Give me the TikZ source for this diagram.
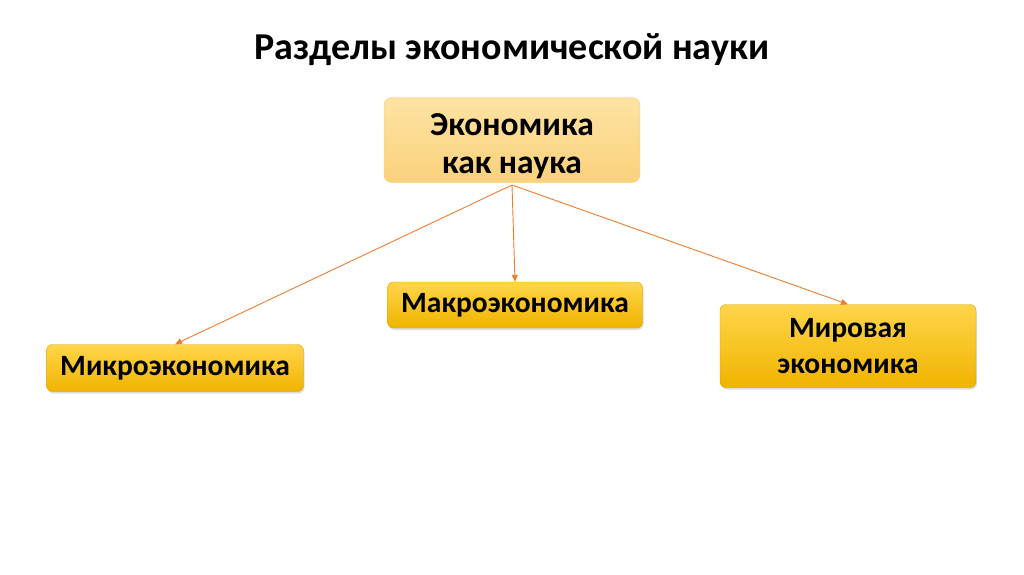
\documentclass[tikz,border=0pt]{standalone}
\usepackage{fontspec}
\setmainfont{Carlito}
\usepackage{tikz}
\usetikzlibrary{arrows.meta, positioning, shadows}
\definecolor{arrorange}{HTML}{ED7D31}
\definecolor{boxtop}{HTML}{FFD54A}
\definecolor{boxbot}{HTML}{F0B400}
\definecolor{lighttop}{HTML}{FDE3A3}
\definecolor{lightbot}{HTML}{FBD17C}

\begin{document}
\begin{tikzpicture}[x=1pt, y=-1pt,
    branch/.style={rounded corners=6pt, top color=boxtop, bottom color=boxbot,
      draw=boxbot!90!black, line width=0.4pt, align=center,
      font=\bfseries\fontsize{29.5}{36}\selectfont,
      drop shadow={shadow xshift=1pt, shadow yshift=-2pt, opacity=0.25}},
    link/.style={draw=arrorange, line width=0.9pt, -{Triangle[length=7pt, width=6pt]}}]
  \useasboundingbox (0,0) rectangle (1024,574);
  % title
  \node (title) at (512,50) {\bfseries\fontsize{38}{44}\selectfont Разделы экономической науки};
  % root
  \node[rounded corners=8pt, top color=lighttop, bottom color=lightbot,
    draw=lightbot!90!orange, align=center, minimum width=256pt, minimum height=85pt,
    font=\bfseries\fontsize{33.5}{38.5}\selectfont] (econ) at (512,140) {\rule{0pt}{34pt}Экономика\\как наука};
  % branches
  \node[branch, minimum width=255pt, minimum height=46pt] (macro) at (515,305) {Макроэкономика};
  \node[branch, minimum width=257pt, minimum height=47pt] (micro) at (175,368) {Микроэкономика};
  \node[branch, minimum width=256pt, minimum height=83pt] (world) at (848,346) {Мировая\\экономика};
  % arrows
  \coordinate (root) at (512,185);
  \draw[link] (root) -- (micro.north);
  \draw[link] (root) -- (macro.north);
  \draw[link] (root) -- (world.north);
\end{tikzpicture}
\end{document}
